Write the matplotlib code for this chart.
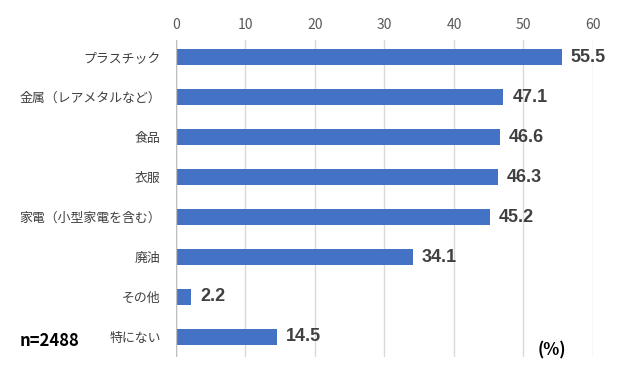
import matplotlib.pyplot as plt

plt.rcParams['font.family'] = ['Noto Sans CJK JP', 'DejaVu Sans']

categories = ["プラスチック", "金属（レアメタルなど）", "食品", "衣服",
              "家電（小型家電を含む）", "廃油", "その他", "特にない"]
values = [55.5, 47.1, 46.6, 46.3, 45.2, 34.1, 2.2, 14.5]
ticks = [0, 10, 20, 30, 40, 50, 60]

fig = plt.figure(figsize=(6.21, 3.71), dpi=100)
ax = fig.add_axes([0.2834, 0.038, 0.6715, 0.854])

pos = list(range(len(categories)))
ax.barh(pos, values, height=0.4, color='#4472c4', zorder=3)

for p, v in zip(pos, values):
    ax.text(v + 1.3, p, f"{v:.1f}", va='center', ha='left', fontsize=13,
            fontweight='bold', color='#404040',
            family=['Liberation Sans Narrow', 'Liberation Sans', 'DejaVu Sans'])

ax.set_xlim(0, 60)
ax.set_ylim(7.5, -0.43)
ax.set_xticks(ticks)
ax.set_yticks(pos)
ax.set_yticklabels(categories, fontsize=9.3, color='#404040')
ax.xaxis.tick_top()
ax.tick_params(axis='x', length=0, labelsize=10, labelcolor='#595959', pad=6)
ax.tick_params(axis='y', length=0, pad=11)
ax.grid(axis='x', color='#d9d9d9', linewidth=1, zorder=0)
for s in ax.spines.values():
    s.set_visible(False)
ax.axvline(0, color='#bfbfbf', linewidth=1, zorder=4)

fig.text(20 / 621, 1 - 341 / 371, "n=2488", fontsize=12, fontweight='bold',
         color='#000000', va='center', ha='left')
fig.text(552 / 621, 1 - 350 / 371, "(%)", fontsize=12, fontweight='bold',
         color='#000000', va='center', ha='center')

fig.savefig('out.png', dpi=100)
